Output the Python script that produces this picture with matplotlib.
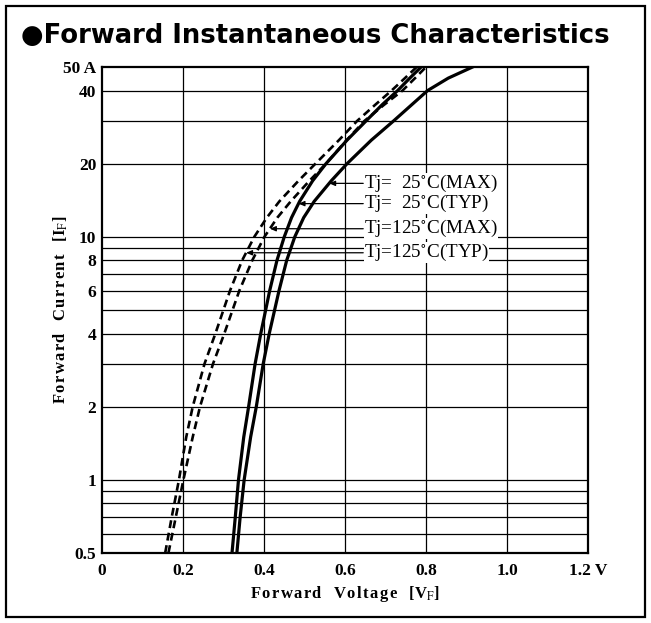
import numpy as np
import matplotlib

matplotlib.use("Agg")
import matplotlib.pyplot as plt
from matplotlib.patches import Rectangle
from matplotlib.ticker import FixedLocator, NullFormatter

plt.rcParams["mathtext.fontset"] = "stix"

# forward current points (A), shared by all four curves
current = [0.5, 0.7, 1, 1.5, 2, 3, 4, 6, 8, 10, 12, 14, 17, 20, 25, 30, 35, 40, 45, 50]

# forward voltage (V)
v_25_typ = [0.321, 0.329, 0.337, 0.350, 0.362, 0.378, 0.392, 0.414, 0.432, 0.450,
            0.468, 0.488, 0.520, 0.553, 0.605, 0.652, 0.692, 0.730, 0.760, 0.788]
v_25_max = [0.333, 0.341, 0.351, 0.367, 0.381, 0.398, 0.413, 0.437, 0.456, 0.476,
            0.498, 0.524, 0.566, 0.605, 0.665, 0.720, 0.765, 0.804, 0.855, 0.915]
v_125_typ = [0.156, 0.172, 0.190, 0.208, 0.224, 0.253, 0.280, 0.316, 0.346, 0.376,
             0.407, 0.438, 0.485, 0.527, 0.585, 0.630, 0.675, 0.715, 0.748, 0.777]
v_125_max = [0.164, 0.182, 0.201, 0.224, 0.242, 0.274, 0.302, 0.339, 0.371, 0.401,
             0.433, 0.466, 0.512, 0.553, 0.604, 0.648, 0.697, 0.742, 0.773, 0.800]

x_ticks = [0, 0.2, 0.4, 0.6, 0.8, 1.0, 1.2]
x_ticklabels = ["0", "0.2", "0.4", "0.6", "0.8", "1.0", "1.2 V"]
y_ticks = [0.5, 1, 2, 4, 6, 8, 10, 20, 40, 50]
y_ticklabels = ["0.5", "1", "2", "4", "6", "8", "10", "20", "40", "50 A"]
y_grid = [0.6, 0.7, 0.8, 0.9, 1, 2, 3, 4, 5, 6, 7, 8, 9, 10, 20, 30, 40]

# (label, curve voltages, current of the label row / leader tip)
labels = [
    ("Tj=  25$^{\\circ}$C(MAX)", v_25_max, 16.6),
    ("Tj=  25$^{\\circ}$C(TYP)", v_25_typ, 13.7),
    ("Tj=125$^{\\circ}$C(MAX)", v_125_max, 10.8),
    ("Tj=125$^{\\circ}$C(TYP)", v_125_typ, 8.6),
]

SERIF = ["Liberation Serif", "DejaVu Serif"]


def spaced(s):
    # the axis titles are set with wide letter spacing
    return "\u200a".join(s)


fig = plt.figure(figsize=(6.51, 6.23), dpi=100)
fig.patches.append(Rectangle((6 / 651, 6 / 623), 639 / 651, 611 / 623,
                             transform=fig.transFigure, fill=False,
                             ec="black", lw=1.6))
fig.text(0.032, 1 - 36 / 623, "●Forward Instantaneous Characteristics",
         fontsize=18.6, fontweight="heavy", family="DejaVu Sans",
         ha="left", va="center")

ax = fig.add_axes([102 / 651, 1 - 553 / 623, 486 / 651, 486 / 623])
ax.set_yscale("log")
ax.set_xlim(0, 1.2)
ax.set_ylim(0.5, 50)

for yv in y_grid:
    ax.axhline(yv, color="black", lw=0.9, zorder=1)
for xv in x_ticks[1:-1]:
    ax.axvline(xv, color="black", lw=0.9, zorder=1)

ax.plot(v_25_max, current, color="black", lw=2.3, zorder=3)
ax.plot(v_25_typ, current, color="black", lw=2.3, zorder=3)
ax.plot(v_125_max, current, color="black", lw=1.9, ls=(0, (3, 1.8)), zorder=3)
ax.plot(v_125_typ, current, color="black", lw=1.9, ls=(0, (3, 1.8)), zorder=3)

for text, volts, i_row in labels:
    v_tip = np.interp(np.log10(i_row), np.log10(current), volts)
    ax.annotate("", xy=(v_tip, i_row), xytext=(0.645, i_row),
                arrowprops=dict(arrowstyle="-|>,head_length=0.35,head_width=0.15",
                                color="black", lw=0.9, shrinkA=0, shrinkB=0),
                zorder=4)
    ax.text(0.647, i_row, text, family=SERIF, fontsize=13.8, ha="left",
            va="center", zorder=5,
            bbox=dict(fc="white", ec="none", pad=0.05))

ax.xaxis.set_major_locator(FixedLocator(x_ticks))
ax.set_xticklabels(x_ticklabels, family=SERIF, fontweight="bold", fontsize=12.5)
ax.yaxis.set_major_locator(FixedLocator(y_ticks))
ax.yaxis.set_minor_formatter(NullFormatter())
ax.yaxis.set_minor_locator(FixedLocator([]))
ax.set_yticklabels(y_ticklabels, family=SERIF, fontweight="bold", fontsize=12.5)
ax.tick_params(axis="y", length=0, pad=4)
ax.tick_params(axis="x", length=0, pad=7)
for s in ax.spines.values():
    s.set_linewidth(1.6)

ax.set_xlabel(spaced("Forward") + "   " + spaced("Voltage") + "   [V$_\\mathrm{F}$]",
              family=SERIF, fontweight="bold", fontsize=12)
ax.set_ylabel(spaced("Forward") + "   " + spaced("Current") + "   [I$_\\mathrm{F}$]",
              family=SERIF, fontweight="bold", fontsize=12)
ax.xaxis.set_label_coords(0.5, -(584 - 553) / 486)
ax.yaxis.set_label_coords(-(102 - 70) / 486, 0.5)

fig.savefig("out.png", dpi=100)
